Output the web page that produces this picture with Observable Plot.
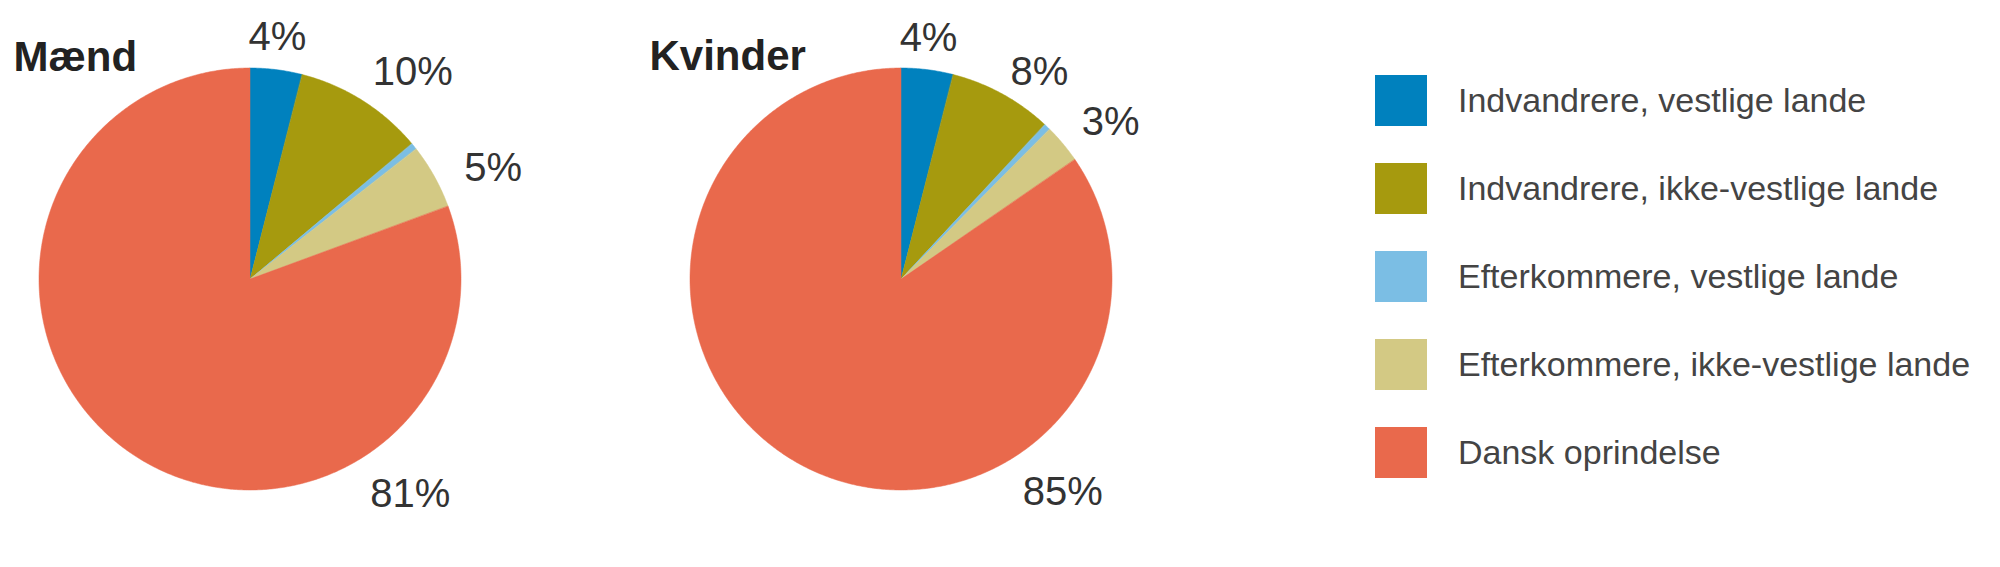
<!DOCTYPE html>
<html><head><meta charset="utf-8">
<script src="https://cdn.jsdelivr.net/npm/d3@7"></script>
<script src="https://cdn.jsdelivr.net/npm/@observablehq/plot@0.6"></script>
<style>
html,body{margin:0;padding:0;background:#fff;}
#wrap{position:relative;width:2000px;height:567px;}
#legend{position:absolute;left:1375px;top:75px;}
.lg-swatches{font-family:"Liberation Sans",Arial,sans-serif;font-size:34px;color:#444;margin:0;}
.lg-swatch{padding-bottom:37px !important;}
.lg-swatch > svg{margin-right:31px !important;}
</style></head><body><div id="wrap"><div id="chart"></div><div id="legend"></div></div>
<script>
// Data
const categories = ["Indvandrere, vestlige lande","Indvandrere, ikke-vestlige lande","Efterkommere, vestlige lande","Efterkommere, ikke-vestlige lande","Dansk oprindelse"];
const colors = ["#0081BE","#A69A0E","#7BBEE4","#D3C984","#E9694C"];
const groups = ["Mænd","Kvinder"];
const maendValues = [4, 10, 0.5, 5, 81];
const kvinderValues = [4, 8, 0.5, 3, 85];
const maendLabels = ["4%","10%","","5%","81%"];
const kvinderLabels = ["4%","8%","","3%","85%"];

// Layout (pixels) – label placement as [angle°, distance] from pie centre
const layout = {
  "Mænd":    {cx:250, cy:279, r:211, titleX:13,  titleY:70, labels:[[6.7,231],[39.9,253],null,[67.8,262],[144.9,278]]},
  "Kvinder": {cx:901, cy:279, r:211, titleX:649, titleY:69, labels:[[6.75,230],[35.4,238],null,[55.4,254],[144.4,277]]}
};

const slices = [], labelRows = [], titleRows = [];
groups.forEach((g, gi) => {
  const vals = gi === 0 ? maendValues : kvinderValues;
  const labs = gi === 0 ? maendLabels : kvinderLabels;
  const L = layout[g];
  const arcs = d3.pie().sort(null).value(d => d)(vals);
  arcs.forEach((a, i) => {
    const n = Math.max(2, Math.ceil((a.endAngle - a.startAngle) / (Math.PI / 360)));
    for (let k = 0; k <= n; k++) {
      const t = a.startAngle + (a.endAngle - a.startAngle) * k / n;
      slices.push({key: g + i, cat: categories[i], x: L.cx + L.r * Math.sin(t), y: L.cy - L.r * Math.cos(t), cx: L.cx, cy: L.cy});
    }
    if (labs[i]) {
      const [ang, dist] = L.labels[i];
      const t = ang * Math.PI / 180;
      labelRows.push({text: labs[i], x: L.cx + dist * Math.sin(t), y: L.cy - dist * Math.cos(t)});
    }
  });
  titleRows.push({text: g, x: L.titleX, y: L.titleY});
});

const chart = Plot.plot({
  width: 2000, height: 567, margin: 0,
  x: {domain: [0, 2000], range: [0, 2000], axis: null},
  y: {domain: [0, 567], range: [0, 567], axis: null},
  color: {domain: categories, range: colors},
  style: {background: "#fff", fontFamily: "Liberation Sans, Arial, sans-serif", overflow: "visible"},
  marks: [
    Plot.area(slices, {x1: "x", y1: "y", x2: "cx", y2: "cy", z: "key", fill: "cat", stroke: "cat", strokeWidth: 0.5, curve: "linear"}),
    Plot.text(labelRows, {x: "x", y: "y", text: "text", textAnchor: "middle", lineAnchor: "bottom", fontSize: 40, fill: "#333"}),
    Plot.text(titleRows, {x: "x", y: "y", text: "text", textAnchor: "start", lineAnchor: "bottom", fontSize: 42, fontWeight: "bold", fill: "#222"})
  ]
});
document.getElementById("chart").append(chart);
document.getElementById("legend").append(chart.legend("color", {columns: 1, swatchWidth: 52, swatchHeight: 51, className: "lg"}));
</script></body></html>
